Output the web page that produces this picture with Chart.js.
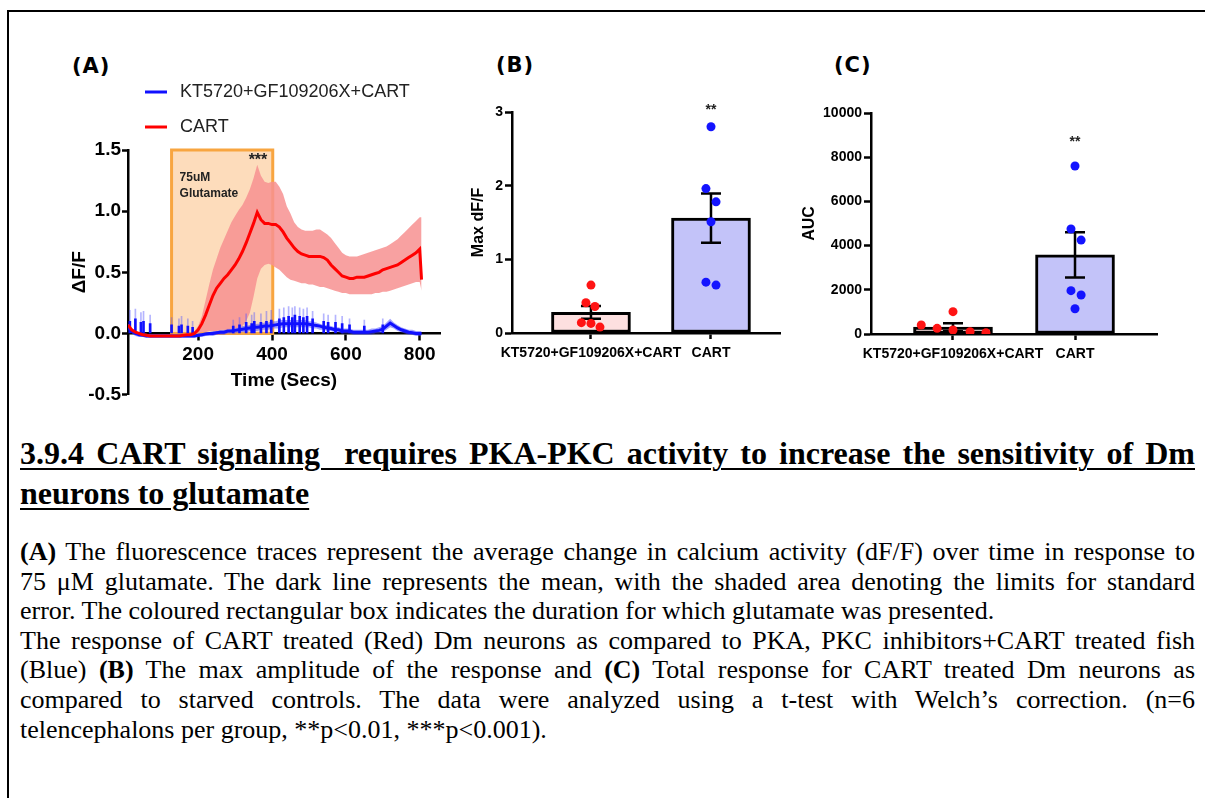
<!DOCTYPE html>
<html>
<head>
<meta charset="utf-8">
<title>CART signaling requires PKA-PKC activity</title>
<script src="https://cdn.jsdelivr.net/npm/chart.js@4.4.1/dist/chart.umd.min.js"></script>
<style>
  html, body { margin: 0; padding: 0; background: #fff; }
  body { position: relative; width: 1205px; height: 798px; overflow: hidden; }
  .frame { position: absolute; left: 7px; top: 10px; width: 1220px; height: 820px; border-top: 2px solid #000; border-left: 2px solid #000; }
  canvas { position: absolute; }
  .panel { position: absolute; font-family: "DejaVu Sans", sans-serif; font-weight: bold; font-size: 21px; letter-spacing: 1px; line-height: 24px; color: #000; }
  .heading, .caption { position: absolute; left: 20px; width: 1175px; font-family: "Liberation Serif", "Times New Roman", serif; color: #000; }
  .heading { top: 433px; font-size: 32px; line-height: 40px; font-weight: bold; text-decoration: underline; text-decoration-thickness: 2px; text-underline-offset: 4px; }
  .caption { top: 537px; font-size: 26px; line-height: 29.6px; }
  .row { text-align: justify; text-align-last: justify; }
  .row.end { text-align-last: left; }
</style>
</head>
<body>
<div class="frame"></div>

<div class="panel" style="left:72px; top:54px;">(A)</div>
<div class="panel" style="left:496px; top:53px;">(B)</div>
<div class="panel" style="left:834px; top:53px;">(C)</div>

<canvas id="traceChart" width="395" height="357" style="left:60px; top:50px;"></canvas>
<canvas id="maxChart" width="335" height="280" style="left:455px; top:95px;"></canvas>
<canvas id="aucChart" width="370" height="280" style="left:800px; top:95px;"></canvas>

<div class="heading">
  <div class="row">3.9.4 CART signaling&nbsp; requires PKA-PKC activity to increase the sensitivity of Dm</div>
  <div class="row end">neurons to glutamate</div>
</div>

<div class="caption">
  <div class="row"><b>(A)</b> The fluorescence traces represent the average change in calcium activity (dF/F) over time in response to</div>
  <div class="row">75 μM glutamate. The dark line represents the mean, with the shaded area denoting the limits for standard</div>
  <div class="row end">error. The coloured rectangular box indicates the duration for which glutamate was presented.</div>
  <div class="row">The response of CART treated (Red) Dm neurons as compared to PKA, PKC inhibitors+CART treated fish</div>
  <div class="row">(Blue) <b>(B)</b> The max amplitude of the response and <b>(C)</b> Total response for CART treated Dm neurons as</div>
  <div class="row">compared to starved controls. The data were analyzed using a t-test with Welch’s correction. (n=6</div>
  <div class="row end">telencephalons per group, **p&lt;0.01, ***p&lt;0.001).</div>
</div>

<script>
// ---- values ----

// (A) time course, seconds
const timeSec = [10,20,30,40,50,60,70,80,90,100,
  110,120,130,140,150,160,170,180,190,200,
  210,220,230,240,250,260,270,280,290,300,
  310,320,330,340,350,360,370,380,390,400,
  410,420,430,440,450,460,470,480,490,500,
  510,520,530,540,550,560,570,580,590,600,
  610,620,630,640,650,660,670,680,690,700,
  710,720,730,740,750,760,770,780,790,800,
  805];

// CART (red) mean dF/F and the SEM envelope
const cartMean = [0.07,0.03,0.01,0.00,-0.01,-0.015,-0.02,-0.02,-0.02,-0.02,
  -0.02,-0.02,-0.02,-0.02,-0.02,-0.015,-0.01,-0.01,0.00,0.03,
  0.08,0.15,0.23,0.31,0.37,0.41,0.45,0.48,0.52,0.56,
  0.61,0.67,0.74,0.82,0.90,0.99,0.93,0.90,0.90,0.89,
  0.89,0.87,0.83,0.78,0.74,0.70,0.67,0.65,0.64,0.63,
  0.63,0.63,0.63,0.62,0.60,0.56,0.53,0.50,0.47,0.46,
  0.45,0.45,0.46,0.46,0.46,0.47,0.48,0.49,0.50,0.52,
  0.53,0.54,0.55,0.56,0.58,0.60,0.62,0.64,0.66,0.69,
  0.44];
const cartUpper = [0.08,0.04,0.02,0.01,0.00,-0.005,-0.01,-0.01,-0.01,-0.01,
  -0.01,-0.01,-0.01,-0.01,-0.01,-0.005,0.00,0.00,0.02,0.06,
  0.14,0.27,0.40,0.52,0.61,0.70,0.77,0.84,0.91,0.96,
  1.01,1.05,1.11,1.18,1.27,1.38,1.29,1.24,1.23,1.24,
  1.24,1.20,1.14,1.04,0.98,0.91,0.87,0.85,0.84,0.84,
  0.84,0.85,0.85,0.83,0.81,0.78,0.74,0.70,0.66,0.64,
  0.63,0.63,0.63,0.64,0.65,0.66,0.67,0.68,0.69,0.70,
  0.71,0.73,0.75,0.77,0.80,0.83,0.86,0.89,0.92,0.95,
  0.95];
const cartLower = [0.06,0.02,0.00,-0.01,-0.02,-0.025,-0.03,-0.03,-0.03,-0.03,
  -0.03,-0.03,-0.03,-0.03,-0.03,-0.025,-0.02,-0.02,-0.01,0.00,
  0.01,0.01,0.02,0.02,0.02,0.03,0.03,0.03,0.04,0.04,
  0.05,0.06,0.10,0.17,0.30,0.45,0.53,0.56,0.57,0.56,
  0.54,0.52,0.49,0.46,0.44,0.43,0.42,0.41,0.41,0.40,
  0.40,0.39,0.38,0.38,0.37,0.36,0.35,0.34,0.33,0.33,
  0.32,0.32,0.32,0.32,0.32,0.32,0.32,0.33,0.33,0.34,
  0.34,0.35,0.36,0.37,0.38,0.39,0.40,0.41,0.42,0.42,
  0.35];

// KT5720+GF109206X+CART (blue) mean dF/F and the SEM envelope
const inhibMean = [0.05,0.02,0.00,-0.01,-0.015,-0.02,-0.02,-0.02,-0.02,-0.02,
  -0.02,-0.02,-0.02,-0.02,-0.02,-0.02,-0.02,-0.02,-0.02,-0.015,
  -0.01,-0.005,0.00,0.00,0.005,0.01,0.01,0.02,0.02,0.025,
  0.03,0.035,0.04,0.045,0.05,0.05,0.055,0.06,0.06,0.065,
  0.07,0.075,0.08,0.08,0.08,0.08,0.08,0.08,0.08,0.075,
  0.07,0.065,0.06,0.05,0.045,0.04,0.03,0.03,0.02,0.02,
  0.02,0.01,0.01,0.01,0.01,0.01,0.015,0.02,0.025,0.035,
  0.06,0.085,0.065,0.045,0.03,0.02,0.01,0.005,0.00,0.00,
  0.00];
const inhibUpper = [0.08,0.03,0.01,0.00,0.00,0.00,-0.01,-0.01,-0.01,-0.01,
  -0.01,-0.01,-0.01,-0.01,-0.01,-0.01,-0.01,-0.01,-0.01,0.00,
  0.00,0.01,0.01,0.02,0.02,0.03,0.03,0.04,0.04,0.05,
  0.05,0.06,0.06,0.07,0.07,0.08,0.08,0.09,0.09,0.10,
  0.10,0.11,0.11,0.11,0.11,0.11,0.11,0.11,0.11,0.10,
  0.10,0.09,0.08,0.07,0.07,0.06,0.05,0.05,0.04,0.04,
  0.04,0.03,0.03,0.03,0.03,0.03,0.04,0.04,0.05,0.06,
  0.09,0.12,0.09,0.07,0.05,0.04,0.03,0.03,0.02,0.02,
  0.02];
const inhibLower = [0.04,0.00,-0.02,-0.03,-0.03,-0.035,-0.035,-0.035,-0.035,-0.035,
  -0.035,-0.035,-0.035,-0.035,-0.035,-0.035,-0.035,-0.035,-0.035,-0.03,
  -0.03,-0.02,-0.02,-0.02,-0.01,-0.01,-0.01,0.00,0.00,0.00,
  0.01,0.01,0.01,0.02,0.02,0.02,0.03,0.03,0.03,0.04,
  0.04,0.04,0.05,0.05,0.05,0.05,0.05,0.05,0.05,0.05,
  0.04,0.04,0.03,0.03,0.02,0.02,0.01,0.01,0.00,0.00,
  0.00,-0.01,-0.01,-0.01,-0.01,-0.01,-0.01,0.00,0.00,0.01,
  0.03,0.05,0.04,0.02,0.01,0.00,-0.01,-0.01,-0.02,-0.02,
  -0.02];

// single-frame spikes on the blue trace: solid part and faint dotted tip
const spikeTime = [15,30,45,52,70,128,148,155,172,185,295,312,330,345,352,370,385,398,
  420,432,445,455,462,475,485,495,510,540,552,572,590,610,650,700];
const spikeTop = [0.10,0.12,0.09,0.10,0.08,0.07,0.06,0.07,0.06,0.05,0.06,0.07,0.09,0.08,0.10,0.09,0.10,0.11,
  0.12,0.13,0.14,0.13,0.15,0.14,0.13,0.14,0.12,0.10,0.09,0.09,0.08,0.07,0.06,0.07];
const spikeTip = [0.19,0.20,0.17,0.18,0.15,0.13,0.12,0.14,0.12,0.10,0.11,0.13,0.16,0.15,0.17,0.16,0.18,0.19,
  0.20,0.21,0.22,0.21,0.22,0.21,0.20,0.21,0.18,0.16,0.15,0.15,0.14,0.12,0.11,0.12];

const timeTicks = [200, 400, 600, 800];
const glutamateWindow = [128, 402];   // seconds the glutamate was on
const peakTime = 362;

// (B) max dF/F and (C) AUC, per group
const groupLabels = ['KT5720+GF109206X+CART', 'CART'];
const maxMean = [0.28, 1.56];
const maxSem = [0.085, 0.335];
const maxInhib = [0.65, 0.41, 0.36, 0.14, 0.13, 0.08];
const maxCart = [2.80, 1.96, 1.78, 1.51, 0.69, 0.65];
const aucMean = [310, 3580];
const aucSem = [180, 1020];
const aucInhib = [1010, 407, 256, 180, 106, 61];
const aucCart = [7600, 4750, 4250, 1960, 1765, 1145];

// ---- shared look ----
Chart.defaults.font.family = '"Liberation Sans", Arial, sans-serif';
Chart.defaults.color = '#000';
Chart.defaults.animation = false;

const BLUE = '#1010ff';
const RED = '#ff0000';

function axisGrid(len) {
  return { offset: false, drawOnChartArea: false, drawTicks: true, tickLength: len, tickWidth: 2.5, tickColor: '#000', color: '#000' };
}
const axisBorder = { display: true, color: '#000', width: 2.5 };

// ---- (A) trace ----
const toPts = ys => ys.map((y, i) => ({ x: timeSec[i], y }));

const tracePlugin = {
  id: 'tracePlugin',
  beforeDatasetsDraw(chart) {
    const { ctx, scales: { x, y } } = chart;
    const l = x.getPixelForValue(glutamateWindow[0]);
    const r = x.getPixelForValue(glutamateWindow[1]);
    const t = y.getPixelForValue(y.max);
    const b = y.getPixelForValue(0);
    ctx.save();
    ctx.fillStyle = '#fddcbb';
    ctx.fillRect(l, t, r - l, b - t);
    ctx.strokeStyle = '#f8a540';
    ctx.lineWidth = 3;
    ctx.strokeRect(l, t, r - l, b - t);
    ctx.fillStyle = '#222';
    ctx.font = 'bold 12px "Liberation Sans"';
    ctx.textBaseline = 'middle';
    ctx.fillText('75uM', l + 8, t + 28);
    ctx.fillText('Glutamate', l + 8, t + 44);
    ctx.restore();
  },
  afterDraw(chart) {
    const { ctx, chartArea, scales: { x } } = chart;
    ctx.save();
    // significance over the peak
    ctx.fillStyle = '#222';
    ctx.font = 'bold 16px "Liberation Sans"';
    ctx.textAlign = 'center';
    ctx.textBaseline = 'top';
    ctx.fillText('***', x.getPixelForValue(peakTime), chartArea.top + 3);
    // legend: blue first, then red
    ctx.textAlign = 'left';
    ctx.textBaseline = 'middle';
    ctx.font = '18px "Liberation Sans"';
    [1, 0].forEach((di, row) => {
      const ds = chart.data.datasets[di];
      const yy = chartArea.top - 58 + row * 35;
      ctx.strokeStyle = ds.borderColor;
      ctx.lineWidth = 3;
      ctx.beginPath();
      ctx.moveTo(chartArea.left + 17, yy);
      ctx.lineTo(chartArea.left + 39, yy);
      ctx.stroke();
      ctx.fillStyle = '#222';
      ctx.fillText(ds.label, chartArea.left + 52, yy);
    });
    ctx.restore();
  }
};

const band = (data, fill, colour) => ({
  type: 'line', data, borderColor: 'rgba(0,0,0,0)', borderWidth: 0, pointRadius: 0,
  fill, backgroundColor: colour
});

new Chart(document.getElementById('traceChart'), {
  type: 'line',
  data: {
    datasets: [
      { label: 'CART', data: toPts(cartMean), borderColor: RED, borderWidth: 3, pointRadius: 0, fill: false },
      { label: 'KT5720+GF109206X+CART', data: toPts(inhibMean), borderColor: BLUE, borderWidth: 3, pointRadius: 0, fill: false },
      { type: 'bar', label: 'spikes', data: spikeTime.map((t, i) => ({ x: t, y: [0, spikeTop[i]] })),
        backgroundColor: BLUE, barThickness: 2, grouped: false },
      { type: 'bar', label: 'spike tips', data: spikeTime.map((t, i) => ({ x: t, y: [spikeTop[i], spikeTip[i]] })),
        backgroundColor: 'rgba(90,90,255,0.45)', barThickness: 1, grouped: false },
      band(toPts(cartUpper), false, 'rgba(0,0,0,0)'),
      band(toPts(cartLower), '-1', 'rgba(247,145,145,0.85)'),
      band(toPts(inhibUpper), false, 'rgba(0,0,0,0)'),
      band(toPts(inhibLower), '-1', 'rgba(70,70,255,0.5)')
    ]
  },
  options: {
    responsive: false,
    layout: { padding: { top: 100, right: 15, left: 0, bottom: 0 } },
    plugins: { legend: { display: false }, tooltip: { enabled: false } },
    scales: {
      x: {
        type: 'linear', min: 10, max: 855, position: { y: 0 }, offset: false,
        afterBuildTicks: s => { s.ticks = timeTicks.map(v => ({ value: v })); },
        afterFit: s => { s.height = 59; },
        grid: axisGrid(6), border: axisBorder,
        ticks: { font: { size: 19, weight: 'bold' }, padding: 4, maxRotation: 0, autoSkip: false },
        title: { display: true, text: 'Time (Secs)', font: { size: 19, weight: 'bold' }, padding: 0 }
      },
      y: {
        min: -0.5, max: 1.5,
        ticks: { stepSize: 0.5, font: { size: 19, weight: 'bold' }, padding: 1, callback: v => v.toFixed(1) },
        afterFit: s => { s.width = 68; },
        grid: axisGrid(6), border: axisBorder,
        title: { display: true, text: 'ΔF/F', font: { size: 19, weight: 'bold' }, padding: { top: 8 } }
      }
    }
  },
  plugins: [tracePlugin]
});

// ---- (B) and (C) bar + dot plots ----
const errorBars = {
  id: 'errorBars',
  afterDatasetDraw(chart, args, opts) {
    if (args.index !== 2) return;
    const { ctx, scales: { x, y } } = chart;
    ctx.save();
    ctx.strokeStyle = '#000';
    ctx.lineWidth = 2.5;
    opts.mean.forEach((m, i) => {
      const cx = x.getPixelForValue(i);
      const hi = y.getPixelForValue(m + opts.sem[i]);
      const lo = y.getPixelForValue(m - opts.sem[i]);
      ctx.beginPath();
      ctx.moveTo(cx, lo); ctx.lineTo(cx, hi);
      ctx.moveTo(cx - 10, hi); ctx.lineTo(cx + 10, hi);
      ctx.moveTo(cx - 10, lo); ctx.lineTo(cx + 10, lo);
      ctx.stroke();
    });
    ctx.restore();
  },
  afterDraw(chart, args, opts) {
    const { ctx, scales: { x, y } } = chart;
    ctx.save();
    ctx.fillStyle = '#222';
    ctx.font = 'bold 14px "Liberation Sans"';
    ctx.textAlign = 'center';
    ctx.textBaseline = 'middle';
    ctx.fillText('**', x.getPixelForValue(1), y.getPixelForValue(opts.starAt));
    ctx.restore();
  }
};

function dotBarChart(id, cfg) {
  const pts = (vals, centre, jit) => vals.map((v, i) => ({ x: centre + jit[i], y: v }));
  return new Chart(document.getElementById(id), {
    type: 'bar',
    data: {
      datasets: [
        { type: 'scatter', data: pts(cfg.inhib, 0, cfg.jitInhib), backgroundColor: '#ff1414', borderWidth: 0, pointRadius: 4.5 },
        { type: 'scatter', data: pts(cfg.cart, 1, cfg.jitCart), backgroundColor: '#1414ff', borderWidth: 0, pointRadius: 4.5 },
        { type: 'bar', data: cfg.mean.map((m, i) => ({ x: i, y: m })), backgroundColor: ['#fde0e0', '#c3c3f9'],
          borderColor: '#000', borderWidth: 3, borderSkipped: false, barThickness: 79 }
      ]
    },
    options: {
      responsive: false,
      layout: { padding: cfg.padding },
      plugins: {
        legend: { display: false }, tooltip: { enabled: false },
        errorBars: { mean: cfg.mean, sem: cfg.sem, starAt: cfg.starAt }
      },
      scales: {
        x: {
          type: 'linear', min: cfg.xRange[0], max: cfg.xRange[1], offset: false,
          afterBuildTicks: s => { s.ticks = groupLabels.map((_, i) => ({ value: i })); },
          afterFit: s => { s.height = cfg.xHeight; },
          grid: axisGrid(6), border: axisBorder,
          ticks: { font: { size: 14, weight: 'bold' }, padding: 6, maxRotation: 0, autoSkip: false,
                   callback: v => groupLabels[v] }
        },
        y: {
          min: 0, max: cfg.yMax,
          ticks: { stepSize: cfg.yStep, font: { size: 14, weight: 'bold' }, padding: 2, callback: v => String(v) },
          afterFit: s => { s.width = cfg.yWidth; },
          grid: axisGrid(7), border: axisBorder,
          title: { display: true, text: cfg.yTitle, font: { size: cfg.titleSize, weight: 'bold' }, padding: { top: cfg.titlePad } }
        }
      }
    },
    plugins: [errorBars]
  });
}

dotBarChart('maxChart', {
  mean: maxMean, sem: maxSem, inhib: maxInhib, cart: maxCart,
  jitInhib: [0, -0.042, 0.033, -0.08, 0, 0.075],
  jitCart: [0, -0.042, 0.042, 0, -0.042, 0.042],
  xRange: [-0.658, 1.575], yMax: 3, yStep: 1, starAt: 3.03,
  yTitle: 'Max dF/F', titleSize: 16, titlePad: 14,
  yWidth: 57, xHeight: 42, padding: { top: 17, right: 10, left: 0, bottom: 0 }
});

dotBarChart('aucChart', {
  mean: aucMean, sem: aucSem, inhib: aucInhib, cart: aucCart,
  jitInhib: [0, -0.26, -0.13, 0, 0.14, 0.27],
  jitCart: [0, -0.033, 0.05, -0.033, 0.05, 0],
  xRange: [-0.672, 1.672], yMax: 10000, yStep: 2000, starAt: 8700,
  yTitle: 'AUC', titleSize: 16, titlePad: 0,
  yWidth: 71, xHeight: 41, padding: { top: 18, right: 13, left: 0, bottom: 0 }
});
</script>
</body>
</html>
